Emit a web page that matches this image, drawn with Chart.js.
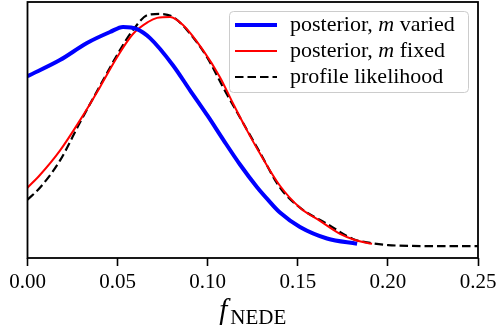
<!DOCTYPE html>
<html>
<head>
<meta charset="utf-8">
<script src="https://cdn.jsdelivr.net/npm/chart.js@4.4.1/dist/chart.umd.min.js"></script>
<style>
  html, body { margin: 0; padding: 0; background: #fff; }
  #wrap { width: 497px; height: 334px; }
</style>
</head>
<body>
<div id="wrap"><canvas id="fnedeChart" width="497" height="334"></canvas></div>
<script>
// legend labels, $..$ parts are drawn in italic (math)
const seriesLabels = ['posterior, $m$ varied', 'posterior, $m$ fixed', 'profile likelihood'];

// posterior with m varied
const variedF = [0.000, 0.018, 0.033, 0.0458, 0.053, 0.0608, 0.068, 0.0807, 0.0902, 0.1002,
  0.1085, 0.1179, 0.1274, 0.1335, 0.1401, 0.1512, 0.1662, 0.1829];
const variedP = [0.745, 0.811, 0.881, 0.926, 0.947, 0.938, 0.901, 0.790, 0.687, 0.580,
  0.486, 0.383, 0.290, 0.238, 0.186, 0.127, 0.080, 0.058];

// posterior with m fixed
const fixedF = [0.000, 0.0069, 0.018, 0.0291, 0.0402, 0.0497, 0.0585, 0.0669, 0.0719, 0.0791,
  0.0863, 0.0974, 0.1068, 0.114, 0.1218, 0.129, 0.1401, 0.1512, 0.1623, 0.1734, 0.1817, 0.1912];
const fixedP = [0.288, 0.340, 0.440, 0.564, 0.700, 0.823, 0.918, 0.967, 0.984, 0.988,
  0.955, 0.852, 0.741, 0.634, 0.523, 0.428, 0.296, 0.206, 0.152, 0.099, 0.074, 0.058];

// profile likelihood
const profileF = [0.000, 0.0069, 0.018, 0.0291, 0.0419, 0.0513, 0.0585, 0.0669, 0.0735, 0.0807,
  0.0885, 0.0996, 0.1085, 0.1179, 0.129, 0.1401, 0.1512, 0.1662, 0.1806, 0.1901, 0.2001, 0.2234, 0.25];
const profileP = [0.239, 0.288, 0.399, 0.555, 0.728, 0.852, 0.934, 0.996, 1.000, 0.988,
  0.934, 0.823, 0.700, 0.576, 0.432, 0.288, 0.206, 0.140, 0.078, 0.062, 0.053, 0.049, 0.049];

const xTicks = [0, 0.05, 0.10, 0.15, 0.20, 0.25];
const xTickLabels = ['0.00', '0.05', '0.10', '0.15', '0.20', '0.25'];
const xTitle = 'f';
const xTitleSub = 'NEDE';

const serif = "'Liberation Serif', 'Times New Roman', serif";

function toPoints(fs, ps) {
  return fs.map((f, i) => ({ x: f, y: ps[i] }));
}

// frame, legend and x label drawn by hand (matplotlib look)
const mplExtras = {
  id: 'mplExtras',
  afterDraw(chart) {
    const ctx = chart.ctx;
    const a = chart.chartArea;
    ctx.save();

    // box around the axes
    ctx.strokeStyle = '#000';
    ctx.lineWidth = 1.8;
    ctx.strokeRect(a.left, a.top, a.right - a.left, a.bottom - a.top);

    // legend
    ctx.beginPath();
    ctx.roundRect(229.5, 11.5, 239, 81, 4);
    ctx.fillStyle = 'rgba(255,255,255,0.8)';
    ctx.fill();
    ctx.strokeStyle = '#cccccc';
    ctx.lineWidth = 1;
    ctx.stroke();

    chart.data.datasets.forEach((ds, i) => {
      const ly = 25 + i * 26;
      ctx.beginPath();
      ctx.strokeStyle = ds.borderColor;
      ctx.lineWidth = ds.borderWidth;
      ctx.setLineDash(ds.borderDash || []);
      ctx.moveTo(235, ly);
      ctx.lineTo(277, ly);
      ctx.stroke();
      ctx.setLineDash([]);

      let tx = 290;
      ctx.fillStyle = '#000';
      ctx.textBaseline = 'alphabetic';
      ds.label.split('$').forEach((part, k) => {
        ctx.font = (k % 2 ? 'italic ' : '') + '22px ' + serif;
        ctx.fillText(part, tx, ly + 6);
        tx += ctx.measureText(part).width;
      });
    });

    // x axis label f_NEDE
    ctx.font = 'italic 29px ' + serif;
    const fw = ctx.measureText(xTitle).width;
    ctx.font = '21px ' + serif;
    const sw = ctx.measureText(xTitleSub).width;
    const x0 = (a.left + a.right) / 2 - (fw + sw + 3) / 2;
    ctx.font = 'italic 29px ' + serif;
    ctx.fillText(xTitle, x0, 319);
    ctx.font = '21px ' + serif;
    ctx.fillText(xTitleSub, x0 + fw + 3, 324);

    ctx.restore();
  }
};

const ctx = document.getElementById('fnedeChart').getContext('2d');
const chart = new Chart(ctx, {
  type: 'line',
  data: {
    datasets: [{
      label: seriesLabels[0],
      data: toPoints(variedF, variedP),
      borderColor: '#0000ff',
      borderWidth: 4
    }, {
      label: seriesLabels[1],
      data: toPoints(fixedF, fixedP),
      borderColor: '#ff0000',
      borderWidth: 2
    }, {
      label: seriesLabels[2],
      data: toPoints(profileF, profileP),
      borderColor: '#000000',
      borderWidth: 2.2,
      borderDash: [8.5, 4]
    }]
  },
  options: {
    responsive: false,
    animation: false,
    elements: {
      point: { radius: 0 },
      line: { cubicInterpolationMode: 'monotone', fill: false }
    },
    layout: { padding: { left: 27.5, right: 19, top: 2, bottom: 0 } },
    plugins: { legend: { display: false }, tooltip: { enabled: false } },
    scales: {
      x: {
        type: 'linear',
        min: 0,
        max: 0.25,
        afterBuildTicks: scale => { scale.ticks = xTicks.map(v => ({ value: v })); },
        afterFit: scale => {
          scale.height = 76;
          // labels may stick out of the plot, as in matplotlib
          scale.paddingLeft = 0;
          scale.paddingRight = 0;
        },
        border: { display: false },
        grid: { drawOnChartArea: false, tickLength: 8, tickWidth: 1.6, tickColor: '#000' },
        ticks: {
          color: '#000',
          padding: 4,
          maxRotation: 0,
          font: { family: serif, size: 21 },
          callback: (v, i) => xTickLabels[i]
        }
      },
      y: {
        display: false,
        min: 0,
        max: 1.049
      }
    }
  },
  plugins: [mplExtras]
});
</script>
</body>
</html>
